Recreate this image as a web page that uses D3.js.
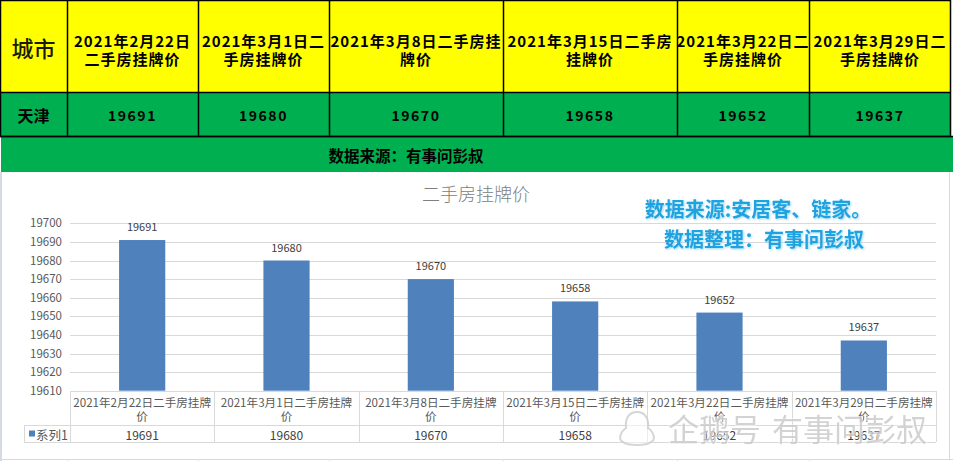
<!DOCTYPE html>
<html>
<head>
<meta charset="utf-8">
<script src="https://cdn.jsdelivr.net/npm/d3@7/dist/d3.min.js"></script>
<style>
  html, body { margin: 0; padding: 0; background: #ffffff; }
  svg { display: block; }
  text { font-family: "Noto Sans CJK SC", "Noto Sans", sans-serif; }
</style>
</head>
<body>
<svg id="chart" width="953" height="461"></svg>
<script>
// ---------- data ----------
const city = "天津";
const cityHeader = "城市";
const categories = [
  "2021年2月22日二手房挂牌价",
  "2021年3月1日二手房挂牌价",
  "2021年3月8日二手房挂牌价",
  "2021年3月15日二手房挂牌价",
  "2021年3月22日二手房挂牌价",
  "2021年3月29日二手房挂牌价"
];
const values = [19691, 19680, 19670, 19658, 19652, 19637];
const headerLines = [
  ["2021年2月22日", "二手房挂牌价"],
  ["2021年3月1日二", "手房挂牌价"],
  ["2021年3月8日二手房挂", "牌价"],
  ["2021年3月15日二手房", "挂牌价"],
  ["2021年3月22日二", "手房挂牌价"],
  ["2021年3月29日二", "手房挂牌价"]
];
const axisLabelLines = [
  ["2021年2月22日二手房挂牌", "价"],
  ["2021年3月1日二手房挂牌", "价"],
  ["2021年3月8日二手房挂牌", "价"],
  ["2021年3月15日二手房挂牌", "价"],
  ["2021年3月22日二手房挂牌", "价"],
  ["2021年3月29日二手房挂牌", "价"]
];
const yTicks = [19610, 19620, 19630, 19640, 19650, 19660, 19670, 19680, 19690, 19700];
const seriesName = "系列1";
const chartTitle = "二手房挂牌价";
const sourceBand = "数据来源：有事问彭叔";
const noteLines = ["数据来源:安居客、链家。", "数据整理：有事问彭叔"];
const watermark = ["企鹅号", "有事问彭叔"];

// ---------- layout ----------
const svg = d3.select("#chart");
const colEdges = [0, 67, 198, 329, 503, 677, 809, 951];
const headTop = 0, headBot = 92, rowBot = 136, bandBot = 172;

// ---------- top table ----------
const topG = svg.append("g");
topG.append("rect").attr("x", 0).attr("y", headTop).attr("width", 951).attr("height", headBot - headTop).attr("fill", "#FFFF00");
topG.append("rect").attr("x", 0).attr("y", headBot).attr("width", 951).attr("height", rowBot - headBot).attr("fill", "#00B050");
topG.append("rect").attr("x", 1).attr("y", rowBot).attr("width", 952).attr("height", bandBot - rowBot).attr("fill", "#00B050");
topG.append("rect").attr("x", 0.5).attr("y", 0.5).attr("width", 950).attr("height", rowBot).attr("fill", "none").attr("stroke", "#000").attr("stroke-width", 1.5);
topG.append("line").attr("x1", 0).attr("x2", 951).attr("y1", headBot + 0.5).attr("y2", headBot + 0.5).attr("stroke", "#000").attr("stroke-width", 1.5);
topG.selectAll("line.col").data(colEdges.slice(1, -1)).enter().append("line")
  .attr("x1", d => d + 0.5).attr("x2", d => d + 0.5).attr("y1", 0).attr("y2", rowBot)
  .attr("stroke", "#000").attr("stroke-width", 1.5);

topG.append("text").attr("x", colEdges[0] + (colEdges[1] - colEdges[0]) / 2).attr("y", 47)
  .attr("text-anchor", "middle").attr("dominant-baseline", "central")
  .attr("font-size", 22).attr("font-weight", 500).attr("fill", "#1a1a00").text(cityHeader);

headerLines.forEach((lines, i) => {
  const cx = (colEdges[i + 1] + colEdges[i + 2]) / 2;
  const t = topG.append("text").attr("text-anchor", "middle").attr("font-size", 15)
    .attr("font-weight", "bold").attr("fill", "#000").attr("letter-spacing", 1);
  lines.forEach((ln, j) => {
    t.append("tspan").attr("x", cx).attr("y", 40 + j * 18).attr("dominant-baseline", "central").text(ln);
  });
});

topG.append("text").attr("x", colEdges[0] + (colEdges[1] - colEdges[0]) / 2).attr("y", 115)
  .attr("text-anchor", "middle").attr("dominant-baseline", "central")
  .attr("font-size", 16).attr("font-weight", "bold").attr("fill", "#000").text(city);
values.forEach((v, i) => {
  const cx = (colEdges[i + 1] + colEdges[i + 2]) / 2;
  topG.append("text").attr("x", cx).attr("y", 115).attr("text-anchor", "middle")
    .attr("dominant-baseline", "central").attr("font-size", 14).attr("font-weight", "bold")
    .attr("letter-spacing", 1.5).attr("fill", "#000").text(v);
});
topG.append("line").attr("x1", 0).attr("x2", 953).attr("y1", rowBot + 0.5).attr("y2", rowBot + 0.5).attr("stroke", "#000").attr("stroke-width", 1.5);
topG.append("text").attr("x", 406).attr("y", 155).attr("text-anchor", "middle")
  .attr("dominant-baseline", "central").attr("font-size", 15.5).attr("font-weight", "bold")
  .attr("fill", "#000").text(sourceBand);

// ---------- chart area ----------
const area = svg.append("g");
area.append("rect").attr("x", 0).attr("y", bandBot).attr("width", 953).attr("height", 461 - bandBot).attr("fill", "#fff");
area.append("rect").attr("x", 0).attr("y", bandBot).attr("width", 2).attr("height", 461 - bandBot).attr("fill", "#D6DAE5");
area.append("line").attr("x1", 949.5).attr("x2", 949.5).attr("y1", bandBot).attr("y2", 459).attr("stroke", "#D9D9D9");
area.append("line").attr("x1", 0).attr("x2", 953).attr("y1", 459.5).attr("y2", 459.5).attr("stroke", "#D9D9D9");
[67, 198, 329, 503, 677, 809].forEach(xx => {
  area.append("line").attr("x1", xx + 0.5).attr("x2", xx + 0.5).attr("y1", 459).attr("y2", 461).attr("stroke", "#E2E2E2");
});

const plotL = 70, plotR = 936, plotT = 223.3, plotB = 390.7;
const x = d3.scaleBand().domain(categories).range([plotL, plotR]).padding(0);
const y = d3.scaleLinear().domain([19610, 19700]).range([plotB, plotT]);

// gridlines
area.selectAll("line.grid").data(yTicks).enter().append("line")
  .attr("x1", plotL).attr("x2", plotR)
  .attr("y1", d => Math.round(y(d)) + 0.5).attr("y2", d => Math.round(y(d)) + 0.5)
  .attr("stroke", "#D9D9D9").attr("stroke-width", 1);

// y axis
const yAxis = d3.axisLeft(y).tickValues(yTicks).tickSize(0).tickPadding(8).tickFormat(d3.format("d"));
const yg = area.append("g").attr("transform", `translate(${plotL},0)`).call(yAxis);
yg.select(".domain").remove();
yg.selectAll("text").attr("font-size", 11.5).attr("fill", "#595959")
  .style("font-family", '"Noto Sans CJK SC", sans-serif');

// title
area.append("text").attr("x", 476).attr("y", 193).attr("text-anchor", "middle")
  .attr("dominant-baseline", "central").attr("font-size", 18).attr("font-weight", 300)
  .attr("fill", "#808080").text(chartTitle);

// bars
const bw = x.bandwidth() * 0.32;
area.selectAll("rect.bar").data(values).enter().append("rect")
  .attr("x", (d, i) => x(categories[i]) + (x.bandwidth() - bw) / 2)
  .attr("y", d => y(d)).attr("width", bw).attr("height", d => plotB - y(d))
  .attr("fill", "#4F81BD");
area.selectAll("text.lbl").data(values).enter().append("text")
  .attr("x", (d, i) => x(categories[i]) + x.bandwidth() / 2)
  .attr("y", d => y(d) - 14).attr("text-anchor", "middle").attr("dominant-baseline", "central")
  .attr("font-size", 11).attr("fill", "#404040").text(d => d);

// data table under the axis
const tTop = 391, tMid = 425, tBot = 442, legL = 24;
const tg = area.append("g").attr("stroke", "#D9D9D9").attr("stroke-width", 1);
tg.append("line").attr("x1", plotL).attr("x2", plotR).attr("y1", tTop + 0.5).attr("y2", tTop + 0.5);
tg.append("line").attr("x1", legL).attr("x2", plotR).attr("y1", tMid + 0.5).attr("y2", tMid + 0.5);
tg.append("line").attr("x1", legL).attr("x2", plotR).attr("y1", tBot + 0.5).attr("y2", tBot + 0.5);
tg.append("line").attr("x1", legL + 0.5).attr("x2", legL + 0.5).attr("y1", tMid).attr("y2", tBot);
const edges = categories.map(c => x(c)).concat([plotR]);
tg.selectAll("line.v").data(edges).enter().append("line")
  .attr("x1", d => Math.round(d) + 0.5).attr("x2", d => Math.round(d) + 0.5)
  .attr("y1", tTop).attr("y2", tBot);

axisLabelLines.forEach((lines, i) => {
  const cx = x(categories[i]) + x.bandwidth() / 2;
  const t = area.append("text").attr("text-anchor", "middle").attr("font-size", 11.6).attr("fill", "#595959");
  lines.forEach((ln, j) => {
    t.append("tspan").attr("x", cx).attr("y", 402 + j * 13.5).attr("dominant-baseline", "central").text(ln);
  });
});
area.selectAll("text.tv").data(values).enter().append("text")
  .attr("x", (d, i) => x(categories[i]) + x.bandwidth() / 2).attr("y", 434)
  .attr("text-anchor", "middle").attr("dominant-baseline", "central")
  .attr("font-size", 12).attr("fill", "#404040").text(d => d);
area.append("rect").attr("x", 29).attr("y", 430.5).attr("width", 6).attr("height", 6).attr("fill", "#4F81BD");
area.append("text").attr("x", 36).attr("y", 434).attr("dominant-baseline", "central")
  .attr("font-size", 12.5).attr("fill", "#595959").text(seriesName);

// blue note
const defs = svg.append("defs");
const f = defs.append("filter").attr("id", "glow").attr("x", "-10%").attr("y", "-30%").attr("width", "120%").attr("height", "160%");
f.append("feGaussianBlur").attr("in", "SourceAlpha").attr("stdDeviation", 1.2).attr("result", "b");
f.append("feFlood").attr("flood-color", "#7fcdf0").attr("flood-opacity", 0.8);
f.append("feComposite").attr("in2", "b").attr("operator", "in").attr("result", "s");
f.append("feOffset").attr("in", "s").attr("dx", 1).attr("dy", 1).attr("result", "so");
const fm = f.append("feMerge");
fm.append("feMergeNode").attr("in", "so");
fm.append("feMergeNode").attr("in", "SourceGraphic");
noteLines.forEach((ln, j) => {
  area.append("text").attr("x", j === 0 ? 758 : 764).attr("y", 208 + j * 30)
    .attr("text-anchor", "middle").attr("dominant-baseline", "central")
    .attr("font-size", 20).attr("font-weight", "bold").attr("fill", "#1FA3E0")
    .attr("filter", "url(#glow)").text(ln);
});

// watermark
const wm = svg.append("g").attr("opacity", 0.85);
wm.append("path")
  .attr("d", "M637,412 C628,412 625,420 626,428 C620,432 618,440 623,442 C628,446 646,446 651,442 C656,440 654,432 648,428 C649,420 646,412 637,412 Z")
  .attr("fill", "rgba(255,255,255,0.6)").attr("stroke", "#CFCFCF").attr("stroke-width", 2);
wm.append("text").attr("x", 668).attr("y", 427).attr("dominant-baseline", "central")
  .attr("font-size", 31).attr("fill", "#CCCCCC").attr("stroke", "rgba(255,255,255,0.7)")
  .attr("stroke-width", 1.5).attr("paint-order", "stroke").text(watermark[0]);
wm.append("text").attr("x", 772).attr("y", 427).attr("dominant-baseline", "central")
  .attr("font-size", 31).attr("fill", "#CCCCCC").attr("stroke", "rgba(255,255,255,0.7)")
  .attr("stroke-width", 1.5).attr("paint-order", "stroke").text(watermark[1]);
</script>
</body>
</html>
